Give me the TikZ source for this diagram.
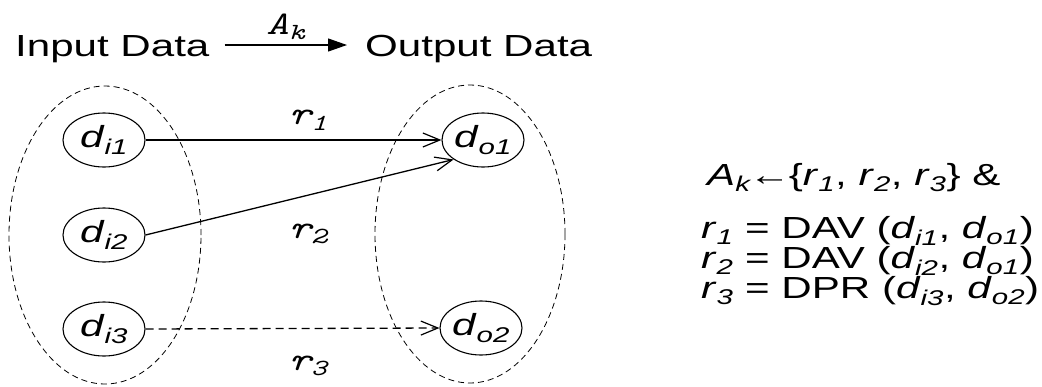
\documentclass[tikz,border=0pt]{standalone}
\usepackage{fontspec}
\usepackage{tikz}
\usetikzlibrary{shapes.geometric, arrows.meta, positioning}
\newfontfamily\widesans[FakeStretch=1.38]{Liberation Sans}
\newfontfamily\widemono[FakeStretch=1.3]{Latin Modern Mono}
\newcommand{\var}[2]{\textit{#1}\textsubscript{\textit{#2}}}

\begin{document}
\begin{tikzpicture}[
    x=1pt, y=-1pt,
    every node/.style={font=\widesans\fontsize{30.5}{30}\selectfont},
    datum/.style={draw, ellipse, line width=1.1pt, minimum width=82pt, minimum height=54pt, inner sep=0pt},
    group/.style={draw, dashed, ellipse, line width=0.8pt, dash pattern=on 6pt off 4pt},
    rel/.style={-{Straight Barb[length=17pt, width=14pt, line width=1.2pt]}, line width=1.3pt},
    lbl/.style={font=\widemono\fontsize{33}{33}\selectfont\itshape}
]
    \useasboundingbox (0,0) rectangle (1042,386);

    % input and output sets
    \node[group, minimum width=192pt, minimum height=298pt] (inset) at (105,235) {};
    \node[group, minimum width=190pt, minimum height=298pt] (outset) at (470,234) {};

    \node[datum] (di1) at (104,140) {\var{d}{i1}};
    \node[datum] (di2) at (104,235) {\var{d}{i2}};
    \node[datum] (di3) at (104,329) {\var{d}{i3}};
    \node[datum] (do1) at (483,140) {\var{d}{o1}};
    \node[datum] (do2) at (481,328) {\var{d}{o2}};

    \draw[rel] (di1.east) -- (do1.west);
    \draw[rel] (di2.east) -- (do1.south west);
    \draw[rel, dashed, dash pattern=on 8pt off 5pt] (di3.east) -- (do2.west);

    \node[lbl] (r1) at (308,120) {r\textsubscript{1}};
    \node[lbl] (r2) at (308,234) {r\textsubscript{2}};
    \node[lbl] (r3) at (308,366) {r\textsubscript{3}};

    % header line
    \node[anchor=base west, inner sep=0pt] (input) at (15,56) {Input Data};
    \node[anchor=base west, inner sep=0pt] (output) at (365,56) {Output Data};
    \draw[-{Triangle[length=19pt, width=13pt]}, line width=1.2pt] ([xshift=15pt, yshift=11pt]input.base east) -- ([xshift=-18pt, yshift=11pt]output.base west)
        node[midway, above=1pt, lbl] (ak) {A\textsubscript{k}};

    % relation summary
    \node[anchor=base west, inner sep=0pt] (rule) at (707,185)
        {\var{A}{k}\kern-3pt←\kern-2pt\{\var{r}{1}, \var{r}{2}, \var{r}{3}\} \&};
    \node[anchor=north west, align=left, inner sep=0pt] (defs) at (701,216)
        {\var{r}{1} = DAV (\var{d}{i1}, \var{d}{o1})\\
         \var{r}{2} = DAV (\var{d}{i2}, \var{d}{o1})\\
         \var{r}{3} = DPR (\var{d}{i3}, \var{d}{o2})};
\end{tikzpicture}
\end{document}
